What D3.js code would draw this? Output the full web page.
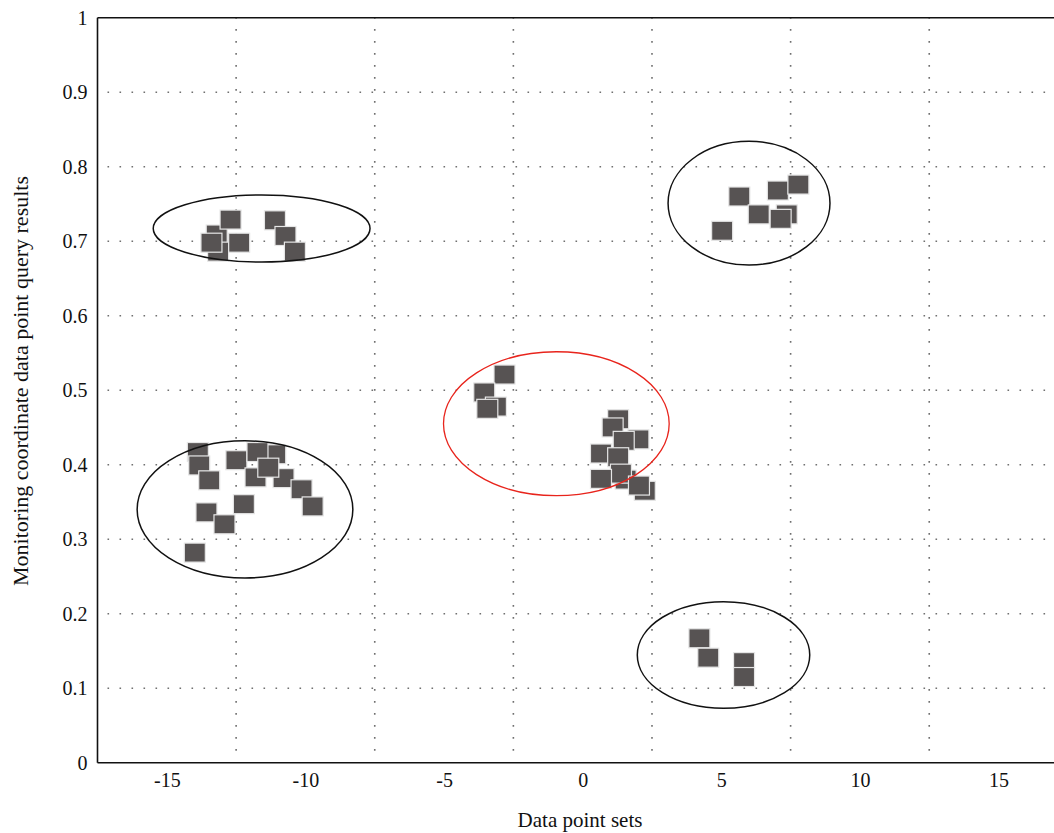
<!DOCTYPE html>
<html>
<head>
<meta charset="utf-8">
<script src="https://cdn.jsdelivr.net/npm/d3@7"></script>
<style>
  html, body { margin: 0; padding: 0; background: #fff; }
  svg { display: block; }
</style>
</head>
<body>
<svg id="chart" width="1054" height="833"></svg>
<script>
// ---------- data ----------
const xTickValues = [-15, -10, -5, 0, 5, 10, 15];
const xTickLabels = ["-15", "-10", "-5", "0", "5", "10", "15"];
const yTickValues = [0, 0.1, 0.2, 0.3, 0.4, 0.5, 0.6, 0.7, 0.8, 0.9, 1];
const yTickLabels = ["0", "0.1", "0.2", "0.3", "0.4", "0.5", "0.6", "0.7", "0.8", "0.9", "1"];
const xGridValues = [-12.5, -7.5, -2.5, 2.5, 7.5, 12.5];
const yGridValues = [0.1, 0.2, 0.3, 0.4, 0.5, 0.6, 0.7, 0.8, 0.9];

// data points (x, y), drawn in this order
const pointX = [
  // top-left cluster
  -13.20, -13.15, -12.70, -13.39, -12.39, -11.10, -10.72, -10.38,
  // top-right cluster
  5.65, 7.04, 7.78, 7.36, 6.35, 7.14, 5.03,
  // lower-left cluster
  -13.88, -13.83, -13.47, -12.49, -11.09, -11.73, -11.80, -10.79, -11.34, -10.14, -9.74, -12.22, -13.57, -12.92, -13.99,
  // central cluster
  -2.82, -3.55, -3.13, -3.44,
  1.28, 1.08, 2.01, 1.48, 0.66, 1.28, 1.55, 1.38, 0.66, 2.24, 2.03,
  // bottom-right cluster
  4.21, 4.53, 5.82, 5.82
];
const pointY = [
  0.709, 0.686, 0.729, 0.698, 0.698, 0.728, 0.707, 0.686,
  0.760, 0.768, 0.776, 0.736, 0.736, 0.730, 0.714,
  0.417, 0.399, 0.379, 0.406, 0.414, 0.417, 0.383, 0.382, 0.396, 0.367, 0.344, 0.347, 0.336, 0.320, 0.282,
  0.521, 0.497, 0.478, 0.475,
  0.461, 0.450, 0.434, 0.432, 0.415, 0.410, 0.380, 0.388, 0.381, 0.365, 0.372,
  0.167, 0.141, 0.135, 0.115
];

// cluster ellipses: centre and radii in data units
const clusterCx = [-11.58, 6.0, -12.18, -0.95, 5.08];
const clusterCy = [0.717, 0.751, 0.340, 0.455, 0.1446];
const clusterRx = [3.91, 2.92, 3.89, 4.07, 3.11];
const clusterRy = [0.045, 0.083, 0.092, 0.0966, 0.0716];
const clusterHighlighted = [false, false, false, true, false];

const xTitle = "Data point sets";
const yTitle = "Monitoring coordinate data point query results";

// ---------- layout ----------
const plotLeft = 97.5, plotRight = 1054, plotTop = 17.7, plotBottom = 762.7;
const squareW = 21, squareH = 19;
const FONT = "'Liberation Serif', 'Times New Roman', serif";

const svg = d3.select("#chart");
const x = d3.scaleLinear().domain([-17.5, 17]).range([plotLeft, plotRight]);
const y = d3.scaleLinear().domain([0, 1]).range([plotBottom, plotTop]);

// grid
const grid = svg.append("g").attr("stroke", "#707070").attr("stroke-width", 1.6)
  .attr("stroke-dasharray", "1.6,10.4").attr("fill", "none");
grid.selectAll("line.h").data(yGridValues).join("line").attr("class", "h")
  .attr("x1", plotLeft + 10).attr("x2", plotRight)
  .attr("y1", d => y(d)).attr("y2", d => y(d));
grid.selectAll("line.v").data(xGridValues).join("line").attr("class", "v")
  .attr("x1", d => x(d)).attr("x2", d => x(d))
  .attr("y1", plotBottom - 12).attr("y2", plotTop);

// axes
const xAxis = d3.axisBottom(x).tickValues(xTickValues)
  .tickFormat((d, i) => xTickLabels[i]).tickSize(0).tickPadding(10);
const gx = svg.append("g").attr("transform", `translate(0,${plotBottom})`).call(xAxis);
gx.select(".domain").remove();
gx.selectAll("text").attr("font-family", FONT).attr("font-size", 20).attr("fill", "#111");

const yAxis = d3.axisLeft(y).tickValues(yTickValues)
  .tickFormat((d, i) => yTickLabels[i]).tickSize(0).tickPadding(10);
const gy = svg.append("g").attr("transform", `translate(${plotLeft},0)`).call(yAxis);
gy.select(".domain").remove();
gy.selectAll("text").attr("font-family", FONT).attr("font-size", 20).attr("fill", "#111");

// frame lines
svg.append("line").attr("x1", plotLeft).attr("x2", plotRight)
  .attr("y1", plotBottom).attr("y2", plotBottom).attr("stroke", "#111").attr("stroke-width", 1.6);
svg.append("line").attr("x1", plotLeft).attr("x2", plotRight)
  .attr("y1", plotTop).attr("y2", plotTop).attr("stroke", "#111").attr("stroke-width", 1.6);
svg.append("line").attr("x1", plotLeft).attr("x2", plotLeft)
  .attr("y1", plotTop).attr("y2", plotBottom).attr("stroke", "#111").attr("stroke-width", 1.6);

// points
const pts = pointX.map((d, i) => ({ x: d, y: pointY[i] }));
svg.append("g").selectAll("rect").data(pts).join("rect")
  .attr("x", d => x(d.x) - squareW / 2)
  .attr("y", d => y(d.y) - squareH / 2)
  .attr("width", squareW).attr("height", squareH)
  .attr("fill", "#575353")
  .attr("stroke", "#e6e6e6").attr("stroke-width", 1.2);

// ellipses
const ells = clusterCx.map((d, i) => ({ cx: d, cy: clusterCy[i], rx: clusterRx[i], ry: clusterRy[i], hl: clusterHighlighted[i] }));
svg.append("g").selectAll("ellipse").data(ells).join("ellipse")
  .attr("cx", d => x(d.cx)).attr("cy", d => y(d.cy))
  .attr("rx", d => x(d.cx + d.rx) - x(d.cx))
  .attr("ry", d => y(d.cy - d.ry) - y(d.cy))
  .attr("fill", "none")
  .attr("stroke", d => d.hl ? "#e8241c" : "#111")
  .attr("stroke-width", d => d.hl ? 1.3 : 1.5);

// titles
svg.append("text").attr("x", 580).attr("y", 827).attr("text-anchor", "middle")
  .attr("font-family", FONT).attr("font-size", 21).attr("fill", "#111").text(xTitle);
svg.append("text").attr("transform", "translate(28,381) rotate(-90)").attr("text-anchor", "middle")
  .attr("font-family", FONT).attr("font-size", 22).attr("fill", "#111").text(yTitle);
</script>
</body>
</html>
